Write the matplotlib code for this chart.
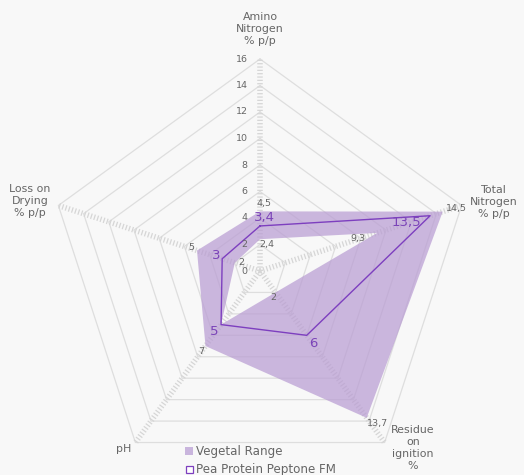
import numpy as np
import matplotlib
matplotlib.use("Agg")
import matplotlib.pyplot as plt
from matplotlib.patches import Rectangle

categories = ["Amino\nNitrogen\n% p/p", "Total\nNitrogen\n% p/p", "Residue\non\nignition\n%", "pH", "Loss on\nDrying\n% p/p"]
range_max = [4.5, 14.5, 13.7, 7, 5]
range_min = [2.4, 9.3, 2, 5, 2]
pea_values = [3.4, 13.5, 6, 5, 3]
radial_ticks = [0, 2, 4, 6, 8, 10, 12, 14, 16]
range_names = ["Vegetal Range", "Pea Protein Peptone FM"]

def fmt(v):
    s = ("%g" % v)
    return s.replace(".", ",")

plt.rcParams['lines.scale_dashes'] = False
plt.rcParams['font.family'] = ['DejaVu Sans']

BG = "#f8f8f8"
FILL = "#b99dd3"
LINE = "#7d3fbf"
LBL = "#7b44b8"
GRID = "#dedede"
TXT = "#666666"

fig = plt.figure(figsize=(5.24, 4.75), dpi=100, facecolor=BG)
W, H = 524, 475
cx, cy, R = 260, 271, 212
ax = fig.add_axes([(cx - R) / W, (H - cy - R) / H, 2 * R / W, 2 * R / H], projection='polar')
ax.set_facecolor(BG)
ax.patch.set_alpha(0)
ax.set_theta_zero_location('N')
ax.set_theta_direction(-1)
ax.set_ylim(0, 16)
ax.grid(False)
ax.spines['polar'].set_visible(False)
ax.set_xticks([])
ax.set_yticks([])

n = len(categories)
theta = np.arange(n) * 2 * np.pi / n
theta_c = np.concatenate([theta, theta[:1]])

# pentagon grid
for r in radial_ticks[1:]:
    ax.plot(theta_c, [r] * (n + 1), color=GRID, lw=0.9, zorder=1, clip_on=False)

# dashed spokes
for t in theta:
    ax.plot([t, t], [0, 16], color="#d6d6d6", lw=4.0, linestyle=(0, (0.9, 1.5)),
            zorder=1, clip_on=False, solid_capstyle='butt', dash_capstyle='butt')

# range band (max polygon with min polygon hole)
ax.fill(np.concatenate([theta_c, theta_c[::-1]]),
        np.concatenate([range_max + range_max[:1], (range_min + range_min[:1])[::-1]]),
        color=FILL, alpha=0.72, lw=0, zorder=2)

# pea line
ax.plot(theta_c, pea_values + pea_values[:1], color=LINE, lw=1.0, zorder=3)

# radial tick labels on amino axis
for r in radial_ticks:
    ax.annotate(str(r), (0, r), xytext=(-9, 0), textcoords='offset points',
                ha='right', va='center', fontsize=6.8, color=TXT, zorder=5)

# value labels for range
max_off = [(3, 6), (10, 2), (8, -4), (-3, -4), (-4, 2)]
min_off = [(5, -4), (-14, -4), (-2, -4), (0, 0), (5, 0)]
for i in range(n):
    ax.annotate(fmt(range_max[i]), (theta[i], range_max[i]), xytext=max_off[i],
                textcoords='offset points', ha='center', va='center', fontsize=6.8, color=TXT, zorder=5)
    if i != 3:
        ax.annotate(fmt(range_min[i]), (theta[i], range_min[i]), xytext=min_off[i],
                    textcoords='offset points', ha='center', va='center', fontsize=6.8, color=TXT, zorder=5)

pea_off = [(3, 6), (-17, -5), (5, -6), (-5, -5), (-4, 2)]
for i in range(n):
    ax.annotate(fmt(pea_values[i]), (theta[i], pea_values[i]), xytext=pea_off[i],
                textcoords='offset points', ha='center', va='center', fontsize=9.5, color=LBL, zorder=5)

# category labels (figure pixel positions)
cat_pos = [(260, 29), (494, 202), (413, 448), (124, 449), (30, 201)]
for (x, y), lab in zip(cat_pos, categories):
    fig.text(x / W, 1 - y / H, lab, ha='center', va='center', fontsize=7.9, color=TXT,
             linespacing=1.22)

# legend
sq = 8
fig.patches.append(Rectangle(((185) / W, 1 - (455) / H), sq / W, sq / H, transform=fig.transFigure,
                             facecolor="#c9b5dd", edgecolor='none'))
fig.patches.append(Rectangle(((185.5) / W, 1 - (473) / H), (sq - 1) / W, (sq - 1) / H, transform=fig.transFigure,
                             facecolor='white', edgecolor=LINE, lw=0.9))
fig.text(196 / W, 1 - 451 / H, range_names[0], ha='left', va='center', fontsize=8.6, color=TXT)
fig.text(196 / W, 1 - 469 / H, range_names[1], ha='left', va='center', fontsize=8.6, color=TXT)

fig.savefig("out.png", dpi=100, facecolor=BG)
